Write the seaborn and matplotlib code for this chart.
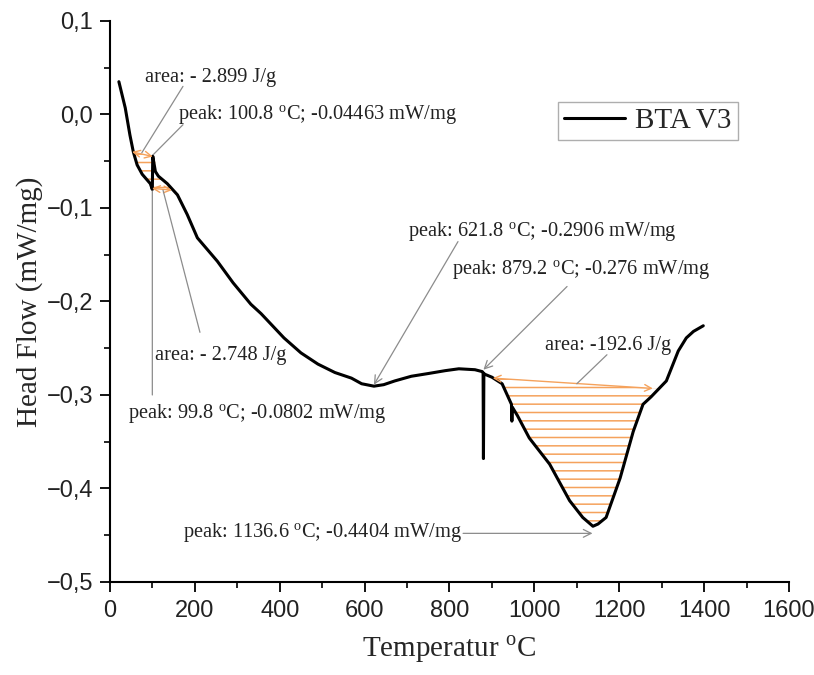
import numpy as np
import pandas as pd
import seaborn as sns
import matplotlib.pyplot as plt
from matplotlib.ticker import MultipleLocator

# DSC/TGA trace
temperature = [21, 36, 47, 55, 64, 76, 95, 99.8, 100.8, 107, 114, 135, 159, 182,
               206, 253, 290, 332, 356, 410, 450, 490, 530, 569, 593, 622, 645,
               671, 710, 751, 790, 822, 860, 877, 879.2, 880, 881, 884, 900, 924,
               946, 947, 948, 960, 988, 1036, 1083, 1114, 1138, 1150, 1169, 1202,
               1233, 1256, 1275, 1311, 1339, 1358, 1375, 1398]
heat_flow = [0.035, 0.007, -0.022, -0.040, -0.054, -0.064, -0.074, -0.0802,
             -0.0446, -0.061, -0.066, -0.074, -0.086, -0.107, -0.132, -0.157,
             -0.180, -0.203, -0.213, -0.239, -0.255, -0.267, -0.276, -0.282,
             -0.288, -0.2906, -0.289, -0.285, -0.280, -0.277, -0.274, -0.272,
             -0.273, -0.275, -0.276, -0.368, -0.277, -0.278, -0.281, -0.288,
             -0.310, -0.328, -0.313, -0.322, -0.346, -0.374, -0.413, -0.431,
             -0.4404, -0.438, -0.431, -0.389, -0.339, -0.310, -0.302, -0.285,
             -0.253, -0.239, -0.232, -0.226]

# integration baselines: (T start, T end), (HF start, HF end)
base_upper_t, base_upper_hf = [52, 101], [-0.040, -0.045]
base_lower_t, base_lower_hf = [99, 146], [-0.079, -0.081]
base_main_t, base_main_hf = [902, 1279], [-0.282, -0.293]

x_ticks = [0, 200, 400, 600, 800, 1000, 1200, 1400, 1600]
x_tick_labels = ["0", "200", "400", "600", "800", "1000", "1200", "1400", "1600"]
y_ticks = [0.1, 0.0, -0.1, -0.2, -0.3, -0.4, -0.5]
y_tick_labels = ["0,1", "0,0", "\u22120,1", "\u22120,2", "\u22120,3", "\u22120,4", "\u22120,5"]

series_name = "BTA V3"
orange = "#f5a25c"
grey = "#8c8c8c"
deg = r"$^{\mathrm{o}}$C"

sns.set_style("ticks")
plt.rcParams["font.family"] = ["Liberation Serif", "DejaVu Serif"]
plt.rcParams["mathtext.fontset"] = "custom"
plt.rcParams["mathtext.rm"] = "Liberation Serif"
plt.rcParams["hatch.linewidth"] = 1.1

df = pd.DataFrame({"T": temperature, "HF": heat_flow})

fig = plt.figure(figsize=(8.14, 6.75), dpi=100)
ax = fig.add_axes([0.1351, 0.1378, 0.8342, 0.8312])

T = np.array(temperature)
HF = np.array(heat_flow)


def hatch_area(bt, bhf, lo, hi, below):
    base = np.interp(T, bt, bhf)
    rng = (T >= lo) & (T <= hi)
    where = rng & ((HF <= base) if below else (HF >= base))
    ax.fill_between(T, HF, base, where=where, interpolate=True,
                    facecolor="none", edgecolor=orange, hatch="--", linewidth=0)
    ax.annotate("", xy=(bt[1], bhf[1]), xytext=(bt[0], bhf[0]),
                arrowprops=dict(arrowstyle="<->", color=orange, lw=1.0,
                                mutation_scale=12, shrinkA=0, shrinkB=0))


hatch_area(base_upper_t, base_upper_hf, 47, 107, True)
hatch_area(base_lower_t, base_lower_hf, 95, 159, False)
hatch_area(base_main_t, base_main_hf, 884, 1330, True)

sns.lineplot(data=df, x="T", y="HF", color="black", lw=2.2, sort=False,
             estimator=None, label=series_name, ax=ax)

# annotations: text, text position, line start, line end, arrow head
notes = [
    ("area: - 2.899 J/g", (82, 0.035), (172, 0.030), (75, -0.041), "-"),
    ("peak: 100.8 " + deg + "; -0.04463 mW/mg", (160, -0.006), (172, -0.011), (102, -0.043), "-"),
    ("area: - 2.748 J/g", (106, -0.263), (212, -0.233), (125, -0.081), "-"),
    ("peak: 99.8 " + deg + "; -0.0802 mW/mg", (42, -0.326), (99.8, -0.300), (99.8, -0.082), "-"),
    ("peak: 621.8 " + deg + "; -0.2906 mW/mg", (702, -0.131), (820, -0.136), (622, -0.289), "->"),
    ("peak: 879.2 " + deg + "; -0.276 mW/mg", (806, -0.172), (1077, -0.184), (880, -0.273), "->"),
    ("area: -192.6 J/g", (1025, -0.252), (1171, -0.257), (1100, -0.288), "-"),
    ("peak: 1136.6 " + deg + "; -0.4404 mW/mg", (172, -0.453), (832, -0.448), (1137, -0.448), "->"),
]
for text, tpos, start, end, style in notes:
    ax.text(tpos[0], tpos[1], text, fontsize=14.7, color="#222222",
            ha="left", va="baseline")
    ax.annotate("", xy=end, xytext=start,
                arrowprops=dict(arrowstyle=style, color=grey, lw=0.9,
                                mutation_scale=14, shrinkA=0, shrinkB=0))

ax.set_xlim(0, 1600)
ax.set_ylim(-0.5, 0.1)
ax.set_xticks(x_ticks, x_tick_labels, fontfamily="Liberation Sans", fontsize=17)
ax.set_yticks(y_ticks, y_tick_labels, fontfamily="Liberation Sans", fontsize=17)
ax.xaxis.set_minor_locator(MultipleLocator(100))
ax.yaxis.set_minor_locator(MultipleLocator(0.05))
ax.tick_params(which="major", direction="out", length=7, width=1.3, color="black",
               labelcolor="#222222")
ax.tick_params(axis="x", which="major", pad=6)
ax.tick_params(axis="y", which="major", pad=5)
ax.tick_params(which="minor", direction="out", length=4, width=1.2, color="black")
sns.despine(ax=ax)
for side in ["left", "bottom"]:
    ax.spines[side].set_linewidth(1.5)
    ax.spines[side].set_color("black")

ax.set_xlabel("Temperatur " + deg, fontsize=21, labelpad=8)
ax.set_ylabel("Head Flow (mW/mg)", fontsize=21, labelpad=3)

ax.legend(loc="upper left", bbox_to_anchor=(0.66, 0.856), borderaxespad=0,
          fontsize=21, frameon=True, fancybox=False, edgecolor="#9a9a9a",
          handlelength=2.1, handletextpad=0.35, borderpad=0.2)
ax.get_legend().get_frame().set_linewidth(1.0)

fig.savefig("out.png", dpi=100)
